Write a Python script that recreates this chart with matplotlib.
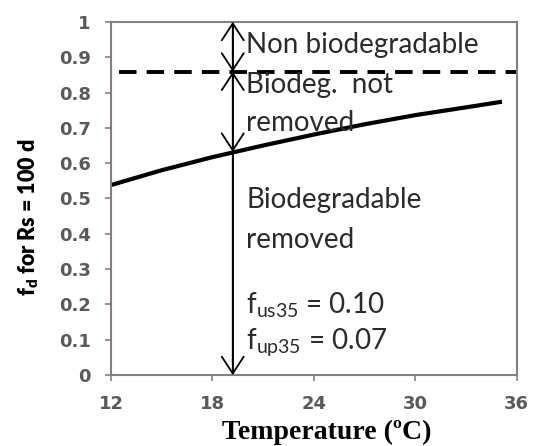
import matplotlib
matplotlib.use("Agg")
import matplotlib.pyplot as plt

# curve: fraction f_d for Rs = 100 d vs temperature
temp = [12, 15, 18, 21, 24, 27, 30, 33, 35]
fd = [0.538, 0.580, 0.617, 0.650, 0.681, 0.710, 0.736, 0.758, 0.773]

f_nonbio = 0.859      # dashed level
t_mark = 19.2         # temperature of the vertical arrows
f_mark = 0.632        # curve value at t_mark

xticks = [12, 18, 24, 30, 36]
yticks = [0, 0.1, 0.2, 0.3, 0.4, 0.5, 0.6, 0.7, 0.8, 0.9, 1]
ytick_labels = ["0", "0.1", "0.2", "0.3", "0.4", "0.5", "0.6", "0.7", "0.8", "0.9", "1"]

fig = plt.figure(figsize=(5.35, 4.46), dpi=100)
ax = fig.add_axes([0.2075, 0.159, 0.7585, 0.792])

spine_col = "#8a7f7a"
for s in ax.spines.values():
    s.set_color(spine_col)
    s.set_linewidth(1.5)

ax.plot(temp, fd, color="black", lw=3)
ax.plot([12.5, 36], [f_nonbio, f_nonbio], color="black", lw=2.8, ls=(0, (4.5, 2.6)), clip_on=False)

ax.plot([t_mark, t_mark], [0, 1], color="black", lw=1.2)
arr = dict(color="black", lw=1.3, mutation_scale=22, shrinkA=0, shrinkB=0)
ax.annotate("", xy=(t_mark, 1), xytext=(t_mark, f_nonbio),
            arrowprops=dict(arrowstyle="<->,head_length=0.55,head_width=0.36", **arr))
ax.annotate("", xy=(t_mark, f_nonbio), xytext=(t_mark, f_mark),
            arrowprops=dict(arrowstyle="<->,head_length=0.55,head_width=0.36", **arr))
ax.annotate("", xy=(t_mark, 0), xytext=(t_mark, f_mark),
            arrowprops=dict(arrowstyle="->,head_length=0.55,head_width=0.36", **arr))

ax.set_xlim(12, 36)
ax.set_ylim(0, 1)
ax.set_xticks(xticks)
ax.set_yticks(yticks)
ax.set_yticklabels(ytick_labels)
ax.tick_params(direction="out", length=4.5, width=1.2, color=spine_col, labelsize=13, labelcolor="#5a5a5a")
ax.tick_params(axis="x", pad=10)
ax.tick_params(axis="y", pad=10)
for lab in ax.get_xticklabels() + ax.get_yticklabels():
    lab.set_fontweight("bold")

txt = dict(fontsize=20, color="#2b2b2b", family="Lato", va="center", ha="left")
tx = 20.0
ax.text(tx, 0.935, "Non biodegradable", **txt)
ax.text(tx, 0.822, "Biodeg.  not", **txt)
ax.text(tx, 0.714, "removed", **txt)
ax.text(tx, 0.496, "Biodegradable", **txt)
ax.text(tx, 0.382, "removed", **txt)
ax.text(tx, 0.198, r"f$_{\mathregular{us35}}$ = 0.10", **txt)
ax.text(tx, 0.090, r"f$_{\mathregular{up35}}$ = 0.07", **txt)

ax.set_xlabel("Temperature (ºC)", fontsize=20, fontweight="bold", family="Liberation Serif", va="center")
ax.xaxis.set_label_coords(0.532, -0.161)
ax.set_ylabel(r"f$_{\mathregular{d}}$ for Rs = 100 d", fontsize=15.5, fontweight="heavy", family="Lato", va="center")
ax.yaxis.set_label_coords(-0.204, 0.448)

fig.savefig("out.png", dpi=100)
